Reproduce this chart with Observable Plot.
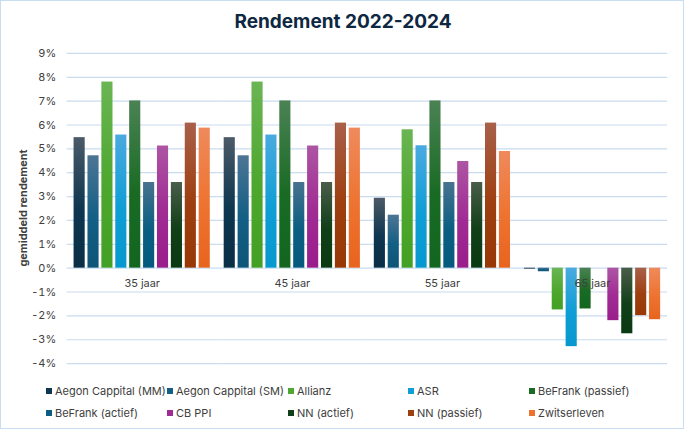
<!DOCTYPE html>
<html>
<head>
<meta charset="utf-8">
<script src="https://cdn.jsdelivr.net/npm/d3@7"></script>
<script src="https://cdn.jsdelivr.net/npm/@observablehq/plot@0.6"></script>
<style>
  html, body { margin: 0; padding: 0; background: #fff; }
  #chart { position: relative; width: 684px; height: 429px; box-sizing: border-box; border: 1px solid #c9ddf1; font-family: "Inter", "Liberation Sans", sans-serif; overflow: hidden; }
  #title { position: absolute; left: 0; top: 9px; width: 684px; text-align: center; font-size: 19px; font-weight: 700; color: #0e2841; }
  #plot { position: absolute; left: 0; top: 39px; }
  #legend { position: absolute; left: 0; top: 380px; width: 684px; }
  .item { position: absolute; font-size: 11px; color: #404040; white-space: nowrap; display: flex; align-items: center; }
  .sw { width: 6px; height: 6px; margin-right: 3px; display: inline-block; }
</style>
</head>
<body>
<div id="chart">
  <div id="title">Rendement 2022-2024</div>
  <div id="plot"></div>
  <div id="legend"></div>
</div>
<script>
const categories = ["35 jaar", "45 jaar", "55 jaar", "65 jaar"];
const series = ["Aegon Cappital (MM)", "Aegon Cappital (SM)", "Allianz", "ASR", "BeFrank (passief)", "BeFrank (actief)", "CB PPI", "NN (actief)", "NN (passief)", "Zwitserleven"];
const r35 = [5.47, 4.71, 7.80, 5.58, 7.01, 3.59, 5.12, 3.59, 6.08, 5.87];
const r45 = [5.47, 4.71, 7.80, 5.58, 7.01, 3.59, 5.12, 3.59, 6.08, 5.87];
const r55 = [2.93, 2.22, 5.80, 5.13, 7.01, 3.59, 4.47, 3.59, 6.08, 4.89];
const r65 = [-0.04, -0.15, -1.75, -3.29, -1.71, null, -2.20, -2.75, -1.99, -2.16];
const yTicks = [-4, -3, -2, -1, 0, 1, 2, 3, 4, 5, 6, 7, 8, 9];
const baseColors = ["#0e3650", "#135f85", "#4ea72e", "#0f9ed5", "#196b24", "#0b5e82", "#a02b93", "#113f18", "#9e3f10", "#ee7330"];
const topColors = ["#4b5a68", "#4d7594", "#6ab554", "#4aaae0", "#4b8254", "#48738f", "#ad55a3", "#4a5d4a", "#a8604a", "#ef8a5c"];
const bottomColors = ["#0a2e46", "#0e5578", "#42a024", "#0598cf", "#126620", "#045a7e", "#9a1d8c", "#0a3a12", "#973805", "#e8641e"];

const valuesByCat = [r35, r45, r55, r65];
const data = [];
categories.forEach((c, ci) => {
  series.forEach((s, si) => {
    const v = valuesByCat[ci][si];
    if (v != null) data.push({cat: c, series: s, value: v});
  });
});

const fmt = d => d + "%";

const plot = Plot.plot({
  width: 686,
  height: 340,
  marginLeft: 66,
  marginRight: 16,
  marginTop: 13,
  marginBottom: 15,
  style: {fontFamily: "Inter, 'Liberation Sans', sans-serif", fontSize: "11px", color: "#404040", background: "transparent"},
  fx: {domain: categories, padding: 0, round: false, axis: null, label: null},
  x: {domain: series, paddingInner: 0.2, paddingOuter: 0.5, round: false, axis: null, label: null},
  y: {domain: [-4, 9], ticks: yTicks, label: null},
  color: {domain: series, range: series.map((d, i) => `url(#grad${i})`)},
  marks: [
    Plot.ruleY(yTicks, {stroke: "#c9dcf0", strokeWidth: 1.2}),
    Plot.axisY({ticks: yTicks, tickFormat: fmt, tickSize: 0, tickPadding: 11, label: null, fill: "#404040"}),
    Plot.barY(data, {fx: "cat", x: "series", y: "value", fill: "series"}),
    Plot.text(categories, {fx: d => d, y: 0, text: d => d, dy: 15, fill: "#404040", fontSize: 11})
  ]
});

const svg = d3.select(plot);
const defs = svg.insert("defs", ":first-child");
series.forEach((s, i) => {
  const g = defs.append("linearGradient").attr("id", `grad${i}`).attr("x1", 0).attr("y1", 0).attr("x2", 0).attr("y2", 1);
  g.append("stop").attr("offset", "0%").attr("stop-color", topColors[i]);
  g.append("stop").attr("offset", "55%").attr("stop-color", baseColors[i]);
  g.append("stop").attr("offset", "100%").attr("stop-color", bottomColors[i]);
});
svg.append("text")
  .attr("transform", "translate(26,169) rotate(-90)")
  .attr("text-anchor", "middle")
  .attr("font-weight", 700)
  .attr("font-size", 11)
  .attr("fill", "#404040")
  .text("gemiddeld rendement");

document.getElementById("plot").appendChild(plot);

const legend = document.getElementById("legend");
const colX = [45, 166, 287, 407, 528];
const rowY = [3, 25];
series.forEach((s, i) => {
  const item = document.createElement("div");
  item.className = "item";
  item.style.left = colX[i % 5] + "px";
  item.style.top = rowY[Math.floor(i / 5)] + "px";
  const sw = document.createElement("span");
  sw.className = "sw";
  sw.style.background = baseColors[i];
  item.appendChild(sw);
  item.appendChild(document.createTextNode(s));
  legend.appendChild(item);
});
</script>
</body>
</html>
